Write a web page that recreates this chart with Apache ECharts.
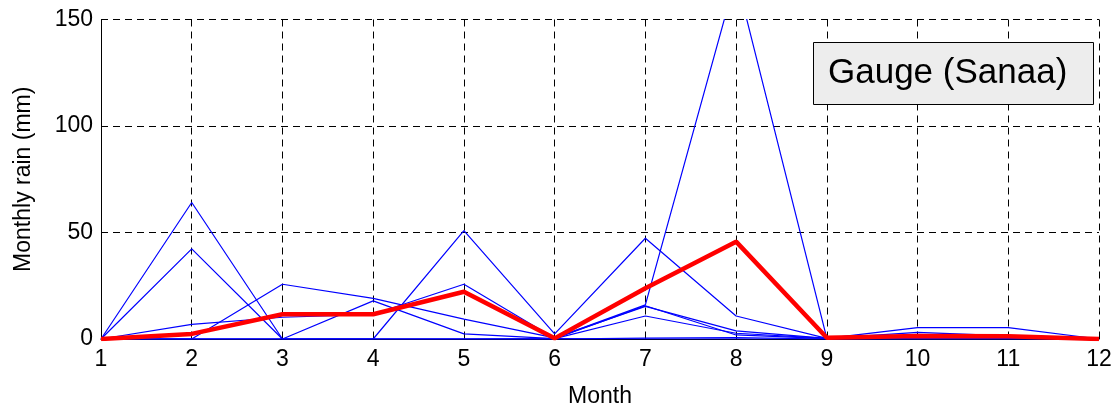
<!DOCTYPE html>
<html>
<head>
<meta charset="utf-8">
<script src="https://cdn.jsdelivr.net/npm/echarts@6/dist/echarts.min.js"></script>
<style>
  html, body { margin: 0; padding: 0; background: #fff; }
  #chart { width: 1120px; height: 417px; }
</style>
</head>
<body>
<div id="chart"></div>
<script>
// Months on the x axis
const months = [1, 2, 3, 4, 5, 6, 7, 8, 9, 10, 11, 12];
const yTicks = [0, 50, 100, 150];

// Individual years of monthly gauge rainfall (mm)
const year1 = [0, 64.1, 0, 0, 0, 0.2, 0, 0, 0, 0, 0, 0];
const year2 = [0, 42.3, 0, 0, 50.9, 2.4, 47.3, 10.8, 0.3, 5.3, 5.3, 0];
const year3 = [0, 6.9, 10.2, 11.6, 25.7, 0.4, 16.0, 170, 0.3, 1.0, 0.8, 0];
const year4 = [0, 0, 25.7, 19.1, 9.3, 0.5, 15.3, 3.8, 0.3, 3.1, 1.5, 0];
const year5 = [0, 0, 0, 17.9, 2.4, 0.2, 10.8, 2.7, 0.3, 0.6, 0.5, 0];
const year6 = [0, 0, 0, 0, 0, 0.1, 15.6, 1.9, 0.2, 0.3, 0.3, 0];
const year7 = [0, 0, 0, 0, 0, 0, 0.4, 0.6, 0, 0, 0, 0];
const years = [year1, year2, year3, year4, year5, year6, year7];

// Mean monthly rainfall (mm)
const meanRain = [0, 2.4, 11.6, 11.6, 22.2, 0.3, 23.8, 45.7, 0.6, 1.4, 1.3, 0];

const FONT = '"Liberation Sans", Arial, Helvetica, sans-serif';
const pairs = vals => months.map((m, i) => [m, vals[i]]);

const series = years.map(v => ({
  type: 'line',
  data: pairs(v),
  symbol: 'none',
  clip: true,
  silent: true,
  lineStyle: { color: '#0000ff', width: 1.2 },
  z: 2
}));
series.push({
  type: 'line',
  data: pairs(meanRain),
  symbol: 'none',
  clip: true,
  silent: true,
  lineStyle: { color: '#ff0000', width: 4.5 },
  z: 3
});

const chart = echarts.init(document.getElementById('chart'), null, { renderer: 'canvas' });
chart.setOption({
  animation: false,
  backgroundColor: '#ffffff',
  grid: { left: 101, right: 21, top: 19.5, bottom: 78 },
  xAxis: {
    type: 'value',
    min: months[0],
    max: months[months.length - 1],
    interval: 1,
    name: 'Month',
    nameLocation: 'middle',
    nameGap: 46,
    nameTextStyle: { fontFamily: FONT, fontSize: 23, color: '#000' },
    axisLine: { show: true, onZero: false, lineStyle: { color: '#000', width: 1 } },
    axisTick: { show: true, inside: true, length: 6, lineStyle: { color: '#000' } },
    axisLabel: { fontFamily: FONT, fontSize: 23, color: '#000', margin: 9 },
    splitLine: { show: true, lineStyle: { color: '#000', width: 1, type: [7, 5] } }
  },
  yAxis: {
    type: 'value',
    min: yTicks[0],
    max: yTicks[yTicks.length - 1],
    interval: 50,
    name: 'Monthly rain (mm)',
    nameLocation: 'middle',
    nameGap: 66,
    nameTextStyle: { fontFamily: FONT, fontSize: 23, color: '#000' },
    axisLine: { show: true, lineStyle: { color: '#000', width: 1 } },
    axisTick: { show: true, inside: true, length: 6, lineStyle: { color: '#000' } },
    axisLabel: { fontFamily: FONT, fontSize: 23, color: '#000', margin: 8 },
    splitLine: { show: true, lineStyle: { color: '#000', width: 1, type: [7, 5] } }
  },
  graphic: [
    {
      type: 'rect',
      left: 813, top: 42,
      shape: { width: 280, height: 62 },
      style: { fill: '#ededed', stroke: '#000', lineWidth: 1 },
      z: 10
    },
    {
      type: 'text',
      left: 828, top: 56,
      style: { text: 'Gauge (Sanaa)', font: '35px ' + FONT, fill: '#000' },
      z: 11
    }
  ],
  series: series
});
</script>
</body>
</html>
